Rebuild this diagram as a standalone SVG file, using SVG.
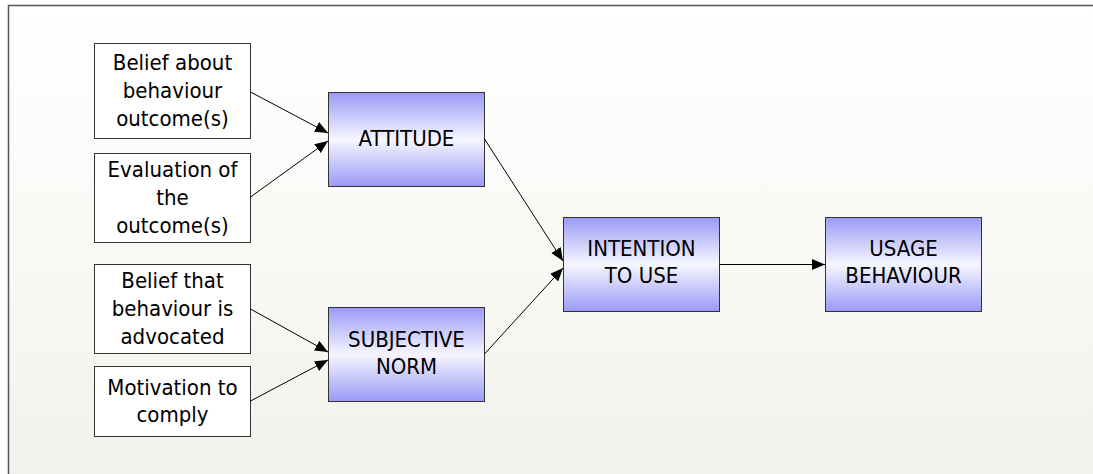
<svg xmlns="http://www.w3.org/2000/svg" width="1093" height="474" viewBox="0 0 1093 474">
  <defs>
    <linearGradient id="bg" x1="0" y1="0" x2="0" y2="1">
      <stop offset="0" stop-color="#ffffff"/>
      <stop offset="1" stop-color="#f2f2ec"/>
    </linearGradient>
    <linearGradient id="construct" x1="0" y1="0" x2="0" y2="1">
      <stop offset="0" stop-color="#9a9af6"/>
      <stop offset="0.5" stop-color="#f6f6ff"/>
      <stop offset="1" stop-color="#9a9af6"/>
    </linearGradient>
    <marker id="arrow" markerUnits="userSpaceOnUse" markerWidth="14" markerHeight="12" refX="13" refY="5.5" orient="auto">
      <path d="M0,0 L13,5.5 L0,11 z" fill="#000"/>
    </marker>
  </defs>
  <style>
    .belief { fill: #ffffff; stroke: #333333; stroke-width: 1; }
    .construct { fill: url(#construct); stroke: #333333; stroke-width: 1; }
    .label { font-family: "DejaVu Sans Condensed", "DejaVu Sans", sans-serif; font-size: 22px; fill: #000; text-anchor: middle; }
    .edge { stroke: #000; stroke-width: 1; fill: none; marker-end: url(#arrow); }
  </style>

  <!-- page background and frame -->
  <rect x="0" y="0" width="1093" height="474" fill="#ffffff"/>
  <rect x="8.5" y="5.5" width="1100" height="480" fill="url(#bg)" stroke="#555555" stroke-width="1.5"/>

  <!-- belief nodes -->
  <g id="belief-outcome">
    <rect class="belief" x="94.5" y="43.5" width="156" height="95"/>
    <text class="label" x="172.5"><tspan x="172.5" y="70">Belief about</tspan><tspan x="172.5" y="98">behaviour</tspan><tspan x="172.5" y="126">outcome(s)</tspan></text>
  </g>
  <g id="evaluation-outcome">
    <rect class="belief" x="94.5" y="153.5" width="156" height="89"/>
    <text class="label" x="172.5"><tspan x="172.5" y="177">Evaluation of</tspan><tspan x="172.5" y="205">the</tspan><tspan x="172.5" y="233">outcome(s)</tspan></text>
  </g>
  <g id="belief-advocated">
    <rect class="belief" x="94.5" y="264.5" width="156" height="89"/>
    <text class="label" x="172.5"><tspan x="172.5" y="288">Belief that</tspan><tspan x="172.5" y="316">behaviour is</tspan><tspan x="172.5" y="344">advocated</tspan></text>
  </g>
  <g id="motivation-comply">
    <rect class="belief" x="94.5" y="366.5" width="156" height="70"/>
    <text class="label" x="172.5"><tspan x="172.5" y="395">Motivation to</tspan><tspan x="172.5" y="422">comply</tspan></text>
  </g>

  <!-- construct nodes -->
  <g id="attitude">
    <rect class="construct" x="328.5" y="92.5" width="156" height="94"/>
    <text class="label" x="406.5" y="146">ATTITUDE</text>
  </g>
  <g id="subjective-norm">
    <rect class="construct" x="328.5" y="307.5" width="156" height="94"/>
    <text class="label" x="406.5"><tspan x="406.5" y="347">SUBJECTIVE</tspan><tspan x="406.5" y="374">NORM</tspan></text>
  </g>
  <g id="intention">
    <rect class="construct" x="563.5" y="217.5" width="156" height="94"/>
    <text class="label" x="641.5"><tspan x="641.5" y="256">INTENTION</tspan><tspan x="641.5" y="283">TO USE</tspan></text>
  </g>
  <g id="usage">
    <rect class="construct" x="825.5" y="217.5" width="156" height="94"/>
    <text class="label" x="903.5"><tspan x="903.5" y="256">USAGE</tspan><tspan x="903.5" y="283">BEHAVIOUR</tspan></text>
  </g>

  <!-- connectors -->
  <g id="connectors">
    <line class="edge" x1="250.5" y1="92" x2="328" y2="133"/>
    <line class="edge" x1="250.5" y1="197" x2="328" y2="141"/>
    <line class="edge" x1="250.5" y1="309" x2="328" y2="352"/>
    <line class="edge" x1="250.5" y1="401" x2="328" y2="360"/>
    <line class="edge" x1="484.5" y1="139" x2="563" y2="261"/>
    <line class="edge" x1="484.5" y1="354" x2="563" y2="268"/>
    <line class="edge" x1="719.5" y1="264.5" x2="825" y2="264.5"/>
  </g>
</svg>
